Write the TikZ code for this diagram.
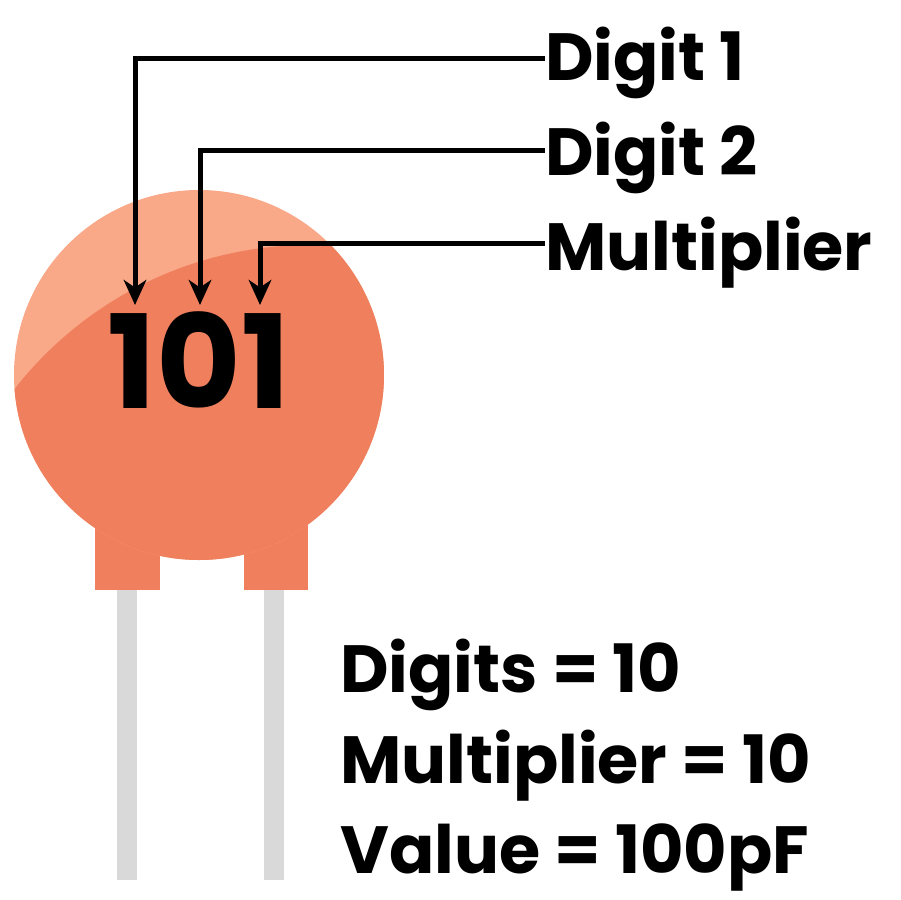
\documentclass[tikz,border=0pt]{standalone}
\usepackage{fontspec}
\setmainfont{Poppins}[BoldFont={* Bold}]
\usetikzlibrary{arrows.meta}
\definecolor{light}{HTML}{F9A888}
\definecolor{dark}{HTML}{F07F5E}
\definecolor{lead}{HTML}{D9D9D9}
\tikzset{lbl/.style={anchor=base west,inner sep=0pt,font=\fontsize{38}{44}\selectfont\bfseries},
 conn/.style={line width=0.1cm,-{Stealth[length=0.5cm,width=0.45cm,inset=0.15cm]}}}
\begin{document}
\begin{tikzpicture}[x=0.02cm,y=-0.02cm]
\useasboundingbox (0,0) rectangle (900,900);
\fill[white] (0,0) rectangle (900,900);
% leads
\fill[lead] (117,590) rectangle (137,880);
\fill[lead] (264,590) rectangle (284,880);
% feet
\fill[dark] (95,520) rectangle (160,590);
\fill[dark] (244,520) rectangle (308,590);
% body
\fill[light] (199,375) circle (185);
\begin{scope}
\clip (199,375) circle (185);
\fill[dark] (310,620) circle (375);
\end{scope}
\node[anchor=base,inner sep=0pt,font=\fontsize{74}{80}\selectfont\bfseries] (num) at (199,408) {101};
% labels
\node[lbl] (d1) at (545,80) {Digit 1};
\node[lbl] (d2) at (545,175) {Digit 2};
\node[lbl] (mu) at (545,270) {Multiplier};
\coordinate (t1) at (135,305);
\coordinate (t2) at (200,305);
\coordinate (t3) at (260,305);
\draw[conn] (d1.west|-0,58) -- (135,58) -- (t1);
\draw[conn] (d2.west|-0,150) -- (200,150) -- (t2);
\draw[conn] (mu.west|-0,243) -- (260,243) -- (t3);
\node[lbl] (r1) at (340,692) {Digits = 10};
\node[lbl] (r2) at (340,783) {Multiplier = 10};
\node[lbl] (r3) at (340,873) {Value = 100pF};
\end{tikzpicture}
\end{document}
